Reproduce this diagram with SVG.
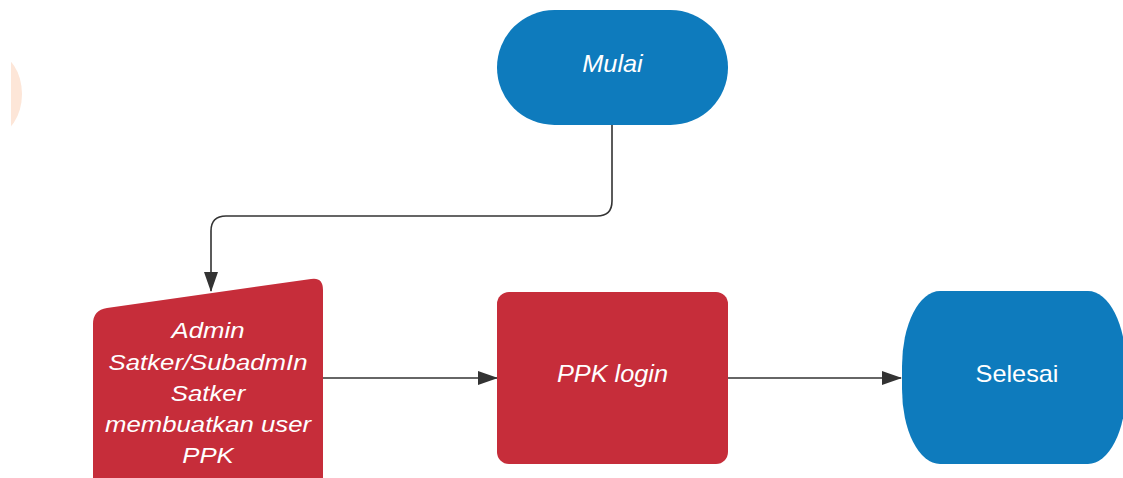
<svg xmlns="http://www.w3.org/2000/svg" width="1123" height="478" viewBox="0 0 1123 478">
<defs>
<style>
.blue{fill:#0e7bbd}
.red{fill:#c62d3a}
.t{font-family:"Liberation Sans",Arial,sans-serif;font-size:23px;fill:#ffffff;text-anchor:middle}
.i{font-style:italic}
.c{fill:none;stroke:#333333;stroke-width:1.6}
</style>
<marker id="ah" markerWidth="20" markerHeight="14" refX="19" refY="7" orient="auto" markerUnits="userSpaceOnUse">
<path d="M0,0 L20,7 L0,14 Z" fill="#333333"/>
</marker>
<clipPath id="cp"><rect x="11" y="0" width="40" height="478"/></clipPath>
</defs>
<rect width="1123" height="478" fill="#ffffff"/>
<ellipse cx="-5" cy="94" rx="27" ry="40" fill="#fde6d8" clip-path="url(#cp)"/>
<g id="connectors">
<path class="c" d="M612,125 V201 Q612,216 597,216 H226 Q211,216 211,231 V291" marker-end="url(#ah)"/>
<path class="c" d="M323,378 H497" marker-end="url(#ah)"/>
<path class="c" d="M728,378 H901" marker-end="url(#ah)"/>
</g>
<g id="mulai">
<rect class="blue" x="497" y="10" width="231" height="115" rx="57.5" ry="57.5"/>
<text class="t i" transform="translate(612.5,72) scale(1.1,1)">Mulai</text>
</g>
<g id="admin">
<path class="red" d="M93,324 Q93,310 107,308 L311,279 Q323,277 323,290 L323,490 L93,490 Z"/>
<text class="t i" transform="translate(208,338) scale(1.12,1)">Admin</text>
<text class="t i" transform="translate(208,369.5) scale(1.12,1)">Satker/SubadmIn</text>
<text class="t i" transform="translate(208,401) scale(1.12,1)">Satker</text>
<text class="t i" transform="translate(208,432) scale(1.12,1)">membuatkan user</text>
<text class="t i" transform="translate(208,463) scale(1.12,1)">PPK</text>
</g>
<g id="ppk">
<rect class="red" x="497" y="292" width="231" height="172" rx="12" ry="12"/>
<text class="t i" transform="translate(612.5,382) scale(1.1,1)">PPK login</text>
</g>
<g id="selesai">
<rect class="blue" x="902" y="291" width="224" height="173" rx="38" ry="75"/>
<text class="t" transform="translate(1017,382) scale(1.1,1)">Selesai</text>
</g>
</svg>
